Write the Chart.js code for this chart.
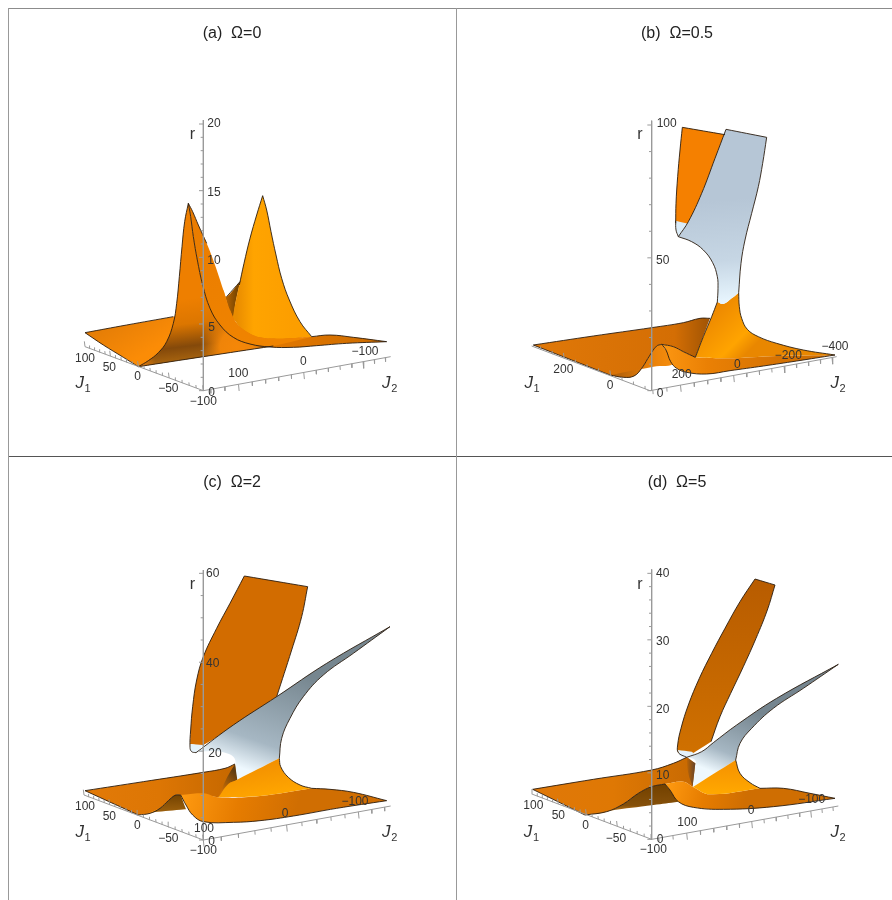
<!DOCTYPE html>
<html>
<head>
<meta charset="utf-8">
<title>r over J1, J2</title>
<script src="https://cdn.jsdelivr.net/npm/chart.js@4"></script>
<style>
    body { margin: 0; background: #fff; width: 892px; height: 900px; overflow: hidden; position: relative; }
    canvas { position: absolute; }
    .rule { position: absolute; }
</style>
</head>
<body>
<div class="rule" style="left:8px;top:8px;width:884px;height:1px;background:#8c8c8c"></div>
<div class="rule" style="left:8px;top:456px;width:884px;height:1px;background:#555"></div>
<div class="rule" style="left:8px;top:8px;width:1px;height:892px;background:#999"></div>
<div class="rule" style="left:456px;top:8px;width:1px;height:892px;background:#999"></div>
<canvas id="panelA" width="447" height="447" style="left:9px;top:9px"></canvas>
<canvas id="panelB" width="435" height="447" style="left:457px;top:9px"></canvas>
<canvas id="panelC" width="447" height="443" style="left:9px;top:457px"></canvas>
<canvas id="panelD" width="435" height="443" style="left:457px;top:457px"></canvas>
<script>
// --- Surface curves, in crop units (1 unit = 1/3 px) ---

// (a) Omega = 0
const aBackTop = [[75,698],[200,675],[340,650],[430,632],[500,590],[540,545]];
const aLeftFront = [[75,698],[130,735],[190,772],[235,800]];
const aFoot = [[235,800],[430,770],[640,738]];
const aRise = [[235,800],[265,782],[295,758],[320,725],[340,670],[350,610],[358,530],[366,440],[374,365],[385,310]];
const aFall = [[385,310],[392,350],[400,410],[412,480],[428,555],[450,625],[480,675],[520,712],[570,732],[630,741],[700,742],[770,737],[860,730],[980,725]];
const aRidgeBack = [[385,310],[398,335],[415,375],[440,430],[465,495],[490,570],[510,630],[530,670],[560,695],[600,712],[650,716],[700,714],[755,710]];
const aPeakL = [[608,287],[590,345],[570,415],[552,490],[538,555],[526,610],[518,655]];
const aPeakR = [[608,287],[620,330],[633,395],[648,465],[665,535],[688,600],[720,665],[755,710]];
const aPeakFoot = [[755,710],[640,718],[560,700],[518,655]];
const aRibbonTop = [[755,710],[810,705],[880,712],[980,725]];
const aFoldSide = [[540,545],[526,610],[518,655],[490,570]];

// (b) Omega = 0.5
const bBackTop = [[70,735],[250,708],[425,683],[520,668],[570,655],[600,655]];
const bLeft = [[70,735],[300,825]];
const bHumpL = [[300,825],[340,832],[372,828],[395,805],[420,765],[440,738],[455,733]];
const bHumpR = [[455,733],[468,750],[482,785],[500,805],[530,817],[590,822],[660,812],[760,798],[860,783],[975,765]];
const bFoldTop = [[455,733],[490,740],[520,755],[556,772]];
const bNeckL = [[556,772],[580,710],[605,650],[622,606]];
const bNeckR = [[686,578],[688,620],[695,655],[712,688],[745,710],[800,730],[880,750],[975,765]];
const bNeckFoot = [[975,765],[800,768],[650,775],[556,772]];
const bFloor = [[622,606],[640,612],[665,595],[686,578]];
const bSilverTop = [[648,88],[770,112]];
const bSilverR = [[770,112],[758,190],[745,260],[725,340],[705,420],[693,490],[686,578]];
const bSilverL = [[648,88],[615,175],[575,280],[535,365],[505,410]];
const bSilverBot = [[505,410],[545,425],[580,450],[608,488],[622,530],[624,565],[622,606]];
const bOrangeTop = [[517,82],[645,104]];
const bOrangeHidden = [[645,104],[680,220],[580,370],[530,376]];
const bOrangeL = [[517,82],[510,150],[503,230],[498,310],[497,370]];
const bTipEdge = [[497,362],[498,390],[505,410]];

// (c) Omega = 2
const cUpperTop = [[553,48],[743,80]];
const cUpperR = [[743,80],[725,170],[695,270],[650,410]];
const cUpperL = [[553,48],[510,130],[470,205],[430,290],[410,360],[398,440],[392,510],[390,562],[395,575],[408,578]];
const cSilverTop = [[408,578],[520,495],[650,410],[800,310],[990,200]];
const cSilverBot = [[990,200],[880,280],[790,345],[730,410],[690,475],[665,535],[658,595]];
const cFloor = [[658,595],[530,660]];
const cSilverL = [[530,660],[520,640],[527,612],[520,590],[495,578],[455,573],[408,578]];
const cSkirt = [[658,595],[662,620],[685,652],[720,675],[755,685]];
const cTail = [[755,685],[810,688],[880,697],[980,722]];
const cBackTop = [[75,692],[250,665],[430,637],[495,625],[525,612]];
const cLeft = [[75,692],[235,765]];
const cBumpTop = [[235,765],[270,760],[300,745],[325,722],[345,706],[362,705]];
const cBumpR = [[362,705],[378,735],[398,765],[430,785],[520,787],[600,782],[700,768],[830,745],[980,722]];
const cBumpFoot = [[280,757],[375,748]];

// (d) Omega = 5
const dUpperTop = [[735,57],[795,75]];
const dUpperR = [[795,75],[772,150],[738,235],[700,320],[662,400],[630,470],[603,545]];
const dUpperL = [[735,57],[690,125],[645,205],[605,280],[568,355],[535,435],[513,505],[503,555],[505,578],[530,592]];
const dSilverTop = [[530,592],[575,575],[610,548],[680,495],[800,415],[985,313]];
const dSilverBot = [[985,313],[880,385],[790,445],[725,505],[690,550],[677,600]];
const dFloor = [[677,600],[550,680]];
const dSilverL = [[550,680],[546,650],[556,620],[555,600],[530,592]];
const dSkirt = [[677,600],[690,640],[720,668],[750,685]];
const dTail = [[750,685],[820,685],[900,700],[975,715]];
const dBackTop = [[68,688],[250,658],[425,630],[490,610],[530,592]];
const dLeft = [[68,688],[225,765]];
const dBumpTop = [[225,765],[290,755],[340,732],[385,700],[425,680],[465,672]];
const dBumpR = [[465,672],[480,690],[505,725],[550,742],[640,748],[790,740],[975,715]];
const dBumpFoot = [[225,765],[300,752],[430,735],[505,725]];

// --- Axis ticks and labels ---
const j1TicksAC = [100,90,80,70,60,50,40,30,20,10,0,-10,-20,-30,-40,-50,-60,-70,-80,-90,-100];
const j1MajorAC = [100,50,0,-50,-100];
const j2TicksA = [140,120,100,80,60,40,20,0,-20,-40,-60,-80,-100,-120,-140];
const j2TicksC = [100,80,60,40,20,0,-20,-40,-60,-80,-100,-120,-140];
const j2Major = [100,0,-100];
const rTicksA = [0,1,2,3,4,5,6,7,8,9,10,11,12,13,14,15,16,17,18,19,20];
const rMajorA = [0,5,10,15,20];
const j1TicksB = [300,250,200,150,100,50,0,-50,-100,-150];
const j1MajorB = [200,0];
const j2TicksB = [300,250,200,150,100,50,0,-50,-100,-150,-200,-250,-300,-350,-400];
const j2MajorB = [200,0,-200,-400];
const rTicksB = [0,10,20,30,40,50,60,70,80,90,100];
const rMajorB = [0,50,100];
const rTicksC = [0,5,10,15,20,25,30,35,40,45,50,55,60];
const rMajorC = [0,20,40,60];
const rTicksD = [0,2,4,6,8,10,12,14,16,18,20,22,24,26,28,30,32,34,36,38,40];
const rMajorD = [0,10,20,30,40];

const labelsA = [['20',462,72],['15',462,278],['10',462,482],['5',455,682],['0',455,878],['100',75,775],['50',148,802],['0',233,830],['\u221250',325,866],['\u2212100',430,905],['100',535,820],['0',730,785],['\u2212100',915,755]];
const labelsB = [['100',470,72],['50',458,482],['0',450,880],['200',160,808],['0',300,858],['200',515,825],['0',682,793],['\u2212200',835,768],['\u2212400',975,740]];
const labelsC = [['60',458,40],['40',458,312],['20',465,582],['0',455,845],['100',75,740],['50',148,770],['0',232,797],['\u221250',325,836],['\u2212100',430,872],['100',432,805],['0',675,762],['\u2212100',885,725]];
const labelsD = [['40',458,40],['30',458,245],['20',458,448],['10',458,648],['0',450,840],['100',70,738],['50',145,768],['0',227,797],['\u221250',318,835],['\u2212100',430,870],['100',532,787],['0',723,752],['\u2212100',905,720]];

// --- Helpers ---
const rev = c => c.slice().reverse();
const toPoints = list => list.map(p => ({ x: p[0], y: p[1] }));

// A closed shape made of curves. Ends of each curve are doubled so they stay sharp corners.
function shape(...curves) {
    const out = [];
    curves.forEach(c => c.forEach((p, i) => {
        out.push(p);
        if (i === 0 || i === c.length - 1) out.push(p);
    }));
    return out;
}
function lin(x0, y0, x1, y1, ...stops) { return { line: [x0, y0, x1, y1], stops }; }
function rad(cx, cy, r, ...stops) { return { circle: [cx, cy, r], stops }; }

const aFace = shape(aRise, aFall.slice(0, 10), rev(aFoot));

const panels = [
    {
        id: 'panelA', title: '(a)  \u03a9=0', titleY: 25, crop: [60, 100], cell: [9, 9, 447, 447], labels: labelsA,
        rLabel: [397, 105], j1Label: [65, 855], j2Label: [985, 855],
        edges: [aBackTop.slice(0, 3), aBackTop.slice(4), aLeftFront, aRise, aFall, aFoot, aPeakL.slice(0, 5), aPeakR, aRibbonTop, aRidgeBack.slice(0, 4)],
        rAxis: { x: 430, top: 60, y0: 872, yMax: 72, max: 20, ticks: rTicksA, major: rMajorA },
        j1: { a: [75, 740], b: [430, 872], from: 100, to: -100, w: 0.82, ticks: j1TicksAC, major: j1MajorAC },
        j2: { a: [430, 872], b: [992, 770], from: 150, to: -150, w: 1.155, ticks: j2TicksA, major: j2Major },
        layers: [
            [shape(aBackTop, aFoldSide.slice(1), aFoot.slice(1), aFoot.slice(0, 2), rev(aLeftFront)), lin(140, 680, 210, 790, [0, '#e67e06'], [1, '#fb8c06'])],
            [shape(aFoldSide, [[490,570],[500,590],[540,545]]), lin(490, 600, 530, 600, [0, '#c06a05'], [1, '#7a4600'])],
            [shape(aPeakR, aPeakFoot, rev(aPeakL)), lin(530, 0, 700, 0, [0, '#e98c00'], [0.3, '#ffa400'], [1, '#fc9e00'])],
            [shape(aRidgeBack.slice(6), aRibbonTop, rev(aFall.slice(6))), lin(520, 0, 980, 0, [0, '#e67c00'], [0.5, '#dc7400'], [1, '#cc6c00'])],
            [shape(aRidgeBack, rev(aFall.slice(0, 10))), lin(385, 310, 620, 730, [0, '#e97b00'], [1, '#f08400'])],
            [aFace, lin(350, 600, 372, 785, [0, '#ee7f00'], [0.4, '#dc7600'], [0.76, '#84490a'], [1, '#a9650f'])],
            [aFace, rad(530, 740, 110, [0, 'rgba(245,135,8,1)'], [0.45, 'rgba(245,135,8,0.95)'], [1, 'rgba(245,135,8,0)'])],
            [aFace, rad(235, 800, 55, [0, 'rgba(235,125,10,1)'], [1, 'rgba(235,125,10,0)'])]
        ]
    },
    {
        id: 'panelB', title: '(b)  \u03a9=0.5', titleY: 25, crop: [510, 100], cell: [457, 9, 435, 447], labels: labelsB,
        rLabel: [390, 105], j1Label: [62, 855], j2Label: [980, 855],
        edges: [bBackTop, bLeft, bHumpL, bHumpR, bFoldTop, bNeckL, bOrangeTop, bOrangeL, bTipEdge, bSilverTop, bSilverR, bNeckR, bSilverL, bSilverBot],
        rAxis: { x: 425, top: 62, y0: 872, yMax: 75, max: 100, ticks: rTicksB, major: rMajorB },
        j1: { a: [65, 738], b: [420, 872], from: 340, to: -170, w: 1, ticks: j1TicksB, major: j1MajorB },
        j2: { a: [420, 872], b: [980, 770], from: 310, to: -420, w: 1.1, ticks: j2TicksB, major: j2MajorB },
        layers: [
            [shape(bBackTop, [[600,655],[556,772]], rev(bFoldTop), rev(bHumpL), rev(bLeft)), lin(70, 0, 600, 0, [0, '#e07808'], [0.8, '#d46e04'], [1, '#a05404'])],
            [shape(bHumpL, [[455,733],[490,790],[430,800],[300,825]]), lin(330, 0, 470, 0, [0, '#b8640a'], [0.6, '#e67e08'], [1, '#f28a0c'])],
            [shape(bHumpR, bNeckFoot, rev(bFoldTop)), lin(470, 0, 880, 0, [0, '#fa9410'], [0.3, '#ea8004'], [1, '#cf6e02'])],
            [shape(bNeckL, bFloor, bNeckR, bNeckFoot), lin(590, 660, 700, 770, [0, '#ee8a00'], [0.7, '#ffa400'], [1, '#e98700'])],
            [shape(bOrangeTop, bOrangeHidden, rev(bOrangeL.slice(4).concat([[530,376]])), rev(bOrangeL)), '#f58000'],
            [shape(bTipEdge, [[505,410],[540,372]], [[540,372],[497,362]]), '#dbecf8'],
            [shape(bSilverTop, bSilverR, rev(bFloor), rev(bSilverBot), rev(bSilverL)), lin(640, 300, 660, 600, [0, '#b6c6d6'], [0.6, '#c6d6e4'], [1, '#e6f4fd'])]
        ]
    },
    {
        id: 'panelC', title: '(c)  \u03a9=2', titleY: 26, crop: [60, 560], cell: [9, 457, 447, 443], labels: labelsC,
        rLabel: [397, 75], j1Label: [65, 822], j2Label: [985, 822],
        edges: [cUpperTop, cUpperR, cUpperL, cSilverTop, cSilverBot, cSkirt, cTail, cBackTop, cLeft, cBumpTop, cBumpR],
        rAxis: { x: 430, top: 30, y0: 840, yMax: 40, max: 60, ticks: rTicksC, major: rMajorC },
        j1: { a: [72, 705], b: [430, 840], from: 100, to: -100, w: 0.82, ticks: j1TicksAC, major: j1MajorAC },
        j2: { a: [430, 840], b: [992, 738], from: 100, to: -150, w: 1.2, ticks: j2TicksC, major: j2Major },
        layers: [
            [shape(cUpperTop, cUpperR, [[650,410],[430,555],[392,552]], rev(cUpperL.slice(0, 8))), '#d26c00'],
            [shape([[391,552],[430,555]], [[430,555],[408,578]], [[408,578],[395,575],[390,562]]), '#e4f2fb'],
            [shape(cSilverTop, cSilverBot, cFloor, cSilverL), lin(700, 330, 590, 640, [0, '#76868f'], [0.72, '#a6b7c3'], [1, '#eef8fe'])],
            [shape(cBackTop, [[525,612],[530,660]], [[530,660],[475,712]], [[475,712],[430,706],[362,705]], rev(cBumpTop), rev(cLeft)), lin(75, 0, 520, 0, [0, '#e27a08'], [0.5, '#dd7604'], [1, '#c66800'])],
            [shape(cBumpTop.slice(0, 3), [[300,745],[260,761]]), lin(240, 0, 300, 0, [0, '#f08a10'], [1, '#ffa020'])],
            [shape([[525,612],[532,660]], [[532,660],[505,672],[475,712]], [[475,712],[500,655],[525,612]]), lin(480, 690, 530, 640, [0, '#d07004'], [1, '#5f3c10'])],
            [shape(cBumpTop.slice(1), [[362,705],[378,748]], rev(cBumpFoot), [[280,757],[270,760]]), lin(0, 700, 0, 760, [0, '#704000'], [1, '#a0630e'])],
            [shape(cBumpR, rev(cTail), [[755,685],[600,708],[475,712],[430,700],[362,705]]), lin(362, 700, 700, 790, [0, '#ff9a10'], [0.5, '#e67c00'], [1, '#d06e02'])],
            [shape(cFloor.slice().reverse(), cSkirt, [[755,685],[600,708],[475,712]], [[475,712],[505,672],[530,660]]), lin(600, 610, 620, 710, [0, '#f39000'], [1, '#ffa600'])]
        ]
    },
    {
        id: 'panelD', title: '(d)  \u03a9=5', titleY: 26, crop: [510, 560], cell: [457, 457, 435, 443], labels: labelsD,
        rLabel: [390, 75], j1Label: [60, 822], j2Label: [980, 822],
        edges: [dUpperTop, dUpperR, dUpperL, dSilverTop, dSilverBot, dSkirt, dTail, dBackTop, dLeft, dBumpTop, dBumpR],
        rAxis: { x: 425, top: 28, y0: 838, yMax: 40, max: 40, ticks: rTicksD, major: rMajorD },
        j1: { a: [68, 703], b: [425, 838], from: 100, to: -100, w: 0.82, ticks: j1TicksAC, major: j1MajorAC },
        j2: { a: [425, 838], b: [985, 738], from: 150, to: -150, w: 1.155, ticks: j2TicksA, major: j2Major },
        layers: [
            [shape(dUpperTop, dUpperR, [[603,545],[530,592]], rev(dUpperL)), lin(0, 60, 0, 570, [0, '#b85c00'], [1, '#cf7000'])],
            [shape([[503,570],[545,575]], [[545,575],[558,585],[530,592]], [[530,592],[512,590],[503,570]]), '#e4f2fb'],
            [shape(dSilverTop, dSilverBot, dFloor, dSilverL), lin(700, 440, 620, 640, [0, '#75858f'], [0.68, '#a6b7c3'], [1, '#eef8fe'])],
            [shape(dBackTop, [[530,592],[556,610]], [[556,610],[548,680]], [[548,680],[520,665],[465,672]], rev(dBumpTop), rev(dLeft)), lin(68, 0, 550, 0, [0, '#e07808'], [0.5, '#df7804'], [1, '#c86a02'])],
            [shape([[530,592],[556,610]], [[556,610],[548,680]], [[548,680],[535,640],[530,592]]), lin(530, 0, 558, 0, [0, '#c06602'], [1, '#5a4030'])],
            [shape(dBumpTop, dBumpR.slice(0, 3), rev(dBumpFoot)), lin(0, 680, 0, 755, [0, '#744200'], [0.75, '#85500a'], [1, '#c57a18'])],
            [shape(dBumpR, rev(dTail), [[750,685],[600,703],[548,680],[520,665],[465,672]]), lin(465, 680, 700, 745, [0, '#ff9a10'], [0.5, '#e67c00'], [1, '#cf6e02'])],
            [shape(rev(dFloor), dSkirt, [[750,685],[600,703],[548,680]]), lin(620, 620, 620, 700, [0, '#f79500'], [1, '#ffa800'])]
        ]
    }
];

// Position along a projected axis, w bends the spacing for perspective
function axisPoint(ax, value) {
    const s = (value - ax.from) / (ax.to - ax.from);
    const d = (1 - s) + s * ax.w;
    return [(ax.a[0] * (1 - s) + ax.b[0] * s * ax.w) / d, (ax.a[1] * (1 - s) + ax.b[1] * s * ax.w) / d];
}

function tickSegments(ax, major, minor) {
    const out = [];
    ax.ticks.forEach(v => {
        const p = axisPoint(ax, v);
        const t = ax.major.includes(v) ? major : minor;
        out.push({ x: p[0], y: p[1] }, { x: p[0] + t[0], y: p[1] + t[1] }, { x: NaN, y: NaN });
    });
    return out;
}

function rTickSegments(r) {
    const out = [];
    r.ticks.forEach(v => {
        const y = r.y0 + (r.yMax - r.y0) * v / r.max;
        const len = r.major.includes(v) ? 13 : 8;
        out.push({ x: r.x, y: y }, { x: r.x - len, y: y }, { x: NaN, y: NaN });
    });
    return out;
}

function makeFill(chart, spec) {
    if (typeof spec === 'string') return spec;
    if (!chart.chartArea) return spec.stops[0][1];
    const xs = chart.scales.x, ys = chart.scales.y;
    let g;
    if (spec.line) {
        const l = spec.line;
        g = chart.ctx.createLinearGradient(xs.getPixelForValue(l[0]), ys.getPixelForValue(l[1]), xs.getPixelForValue(l[2]), ys.getPixelForValue(l[3]));
    } else {
        const c = spec.circle;
        const px = xs.getPixelForValue(c[0]), py = ys.getPixelForValue(c[1]);
        g = chart.ctx.createRadialGradient(px, py, 0, px, py, c[2] / 3);
    }
    spec.stops.forEach(s => g.addColorStop(s[0], s[1]));
    return g;
}

// Titles, tick labels and axis names sit on top of the surfaces
const panelText = {
    id: 'panelText',
    afterDraw(chart, args, opts) {
        const { ctx, scales } = chart;
        const px = v => scales.x.getPixelForValue(v), py = v => scales.y.getPixelForValue(v);
        ctx.save();
        ctx.textBaseline = 'middle';
        ctx.textAlign = 'center';
        ctx.fillStyle = '#222';
        ctx.font = '16px "Liberation Sans", Arial, sans-serif';
        ctx.fillText(opts.title, opts.titleX, opts.titleY);
        ctx.fillStyle = '#333';
        ctx.font = '12px "Liberation Sans", Arial, sans-serif';
        opts.labels.forEach(l => ctx.fillText(l[0], px(l[1]), py(l[2])));
        ctx.font = '16px "Liberation Sans", Arial, sans-serif';
        ctx.fillText('r', px(opts.rLabel[0]), py(opts.rLabel[1]));
        [[opts.j1Label, '1'], [opts.j2Label, '2']].forEach(([pos, sub]) => {
            ctx.font = 'italic 17px "Liberation Sans", Arial, sans-serif';
            ctx.fillText('J', px(pos[0]) - 2, py(pos[1]) - 2);
            ctx.font = '11px "Liberation Sans", Arial, sans-serif';
            ctx.fillText(sub, px(pos[0]) + 6, py(pos[1]) + 4);
        });
        ctx.restore();
    }
};

panels.forEach(p => {
    const sets = [];
    const line = (data, color, width, tension) => sets.push({
        data, showLine: true, fill: false, borderColor: color, borderWidth: width, pointRadius: 0, tension
    });
    p.layers.forEach(([pts, spec]) => sets.push({
        data: toPoints(pts), showLine: true, fill: 'shape', borderWidth: 0, pointRadius: 0, tension: 0.4,
        borderColor: 'transparent',
        backgroundColor: ctx => makeFill(ctx.chart, spec)
    }));
    p.edges.forEach(e => line(toPoints(e), '#2b1d10', 0.9, 0.4));
    // axes
    line(toPoints([[p.rAxis.x, p.rAxis.top], [p.rAxis.x, p.rAxis.y0]]), '#9a9a9a', 1, 0);
    line(toPoints([p.j1.a, p.j1.b]), '#9a9a9a', 1, 0);
    line(toPoints([p.j2.a, p.j2.b]), '#9a9a9a', 1, 0);
    line(rTickSegments(p.rAxis), '#9a9a9a', 1, 0);
    line(tickSegments(p.j1, [-2, -16], [-1, -9]), '#9a9a9a', 1, 0);
    line(tickSegments(p.j2, [2, 20], [1, 12]), '#9a9a9a', 1, 0);
    // later datasets paint on top
    sets.forEach((s, i) => { s.order = sets.length - i; });

    const [cx, cy, cw, ch] = p.cell;
    const xMin = (cx - p.crop[0]) * 3, yMin = (cy - p.crop[1]) * 3;
    new Chart(document.getElementById(p.id), {
        type: 'scatter',
        data: { datasets: sets },
        options: {
            responsive: false,
            animation: false,
            devicePixelRatio: 1,
            layout: { padding: 0 },
            scales: {
                x: { type: 'linear', display: false, min: xMin, max: xMin + cw * 3 },
                y: { type: 'linear', display: false, reverse: true, min: yMin, max: yMin + ch * 3 }
            },
            plugins: {
                legend: { display: false },
                tooltip: { enabled: false },
                panelText: { title: p.title, titleX: p.id === 'panelB' || p.id === 'panelD' ? 220 : 223, titleY: p.titleY, labels: p.labels, rLabel: p.rLabel, j1Label: p.j1Label, j2Label: p.j2Label }
            }
        },
        plugins: [panelText]
    });
});
</script>
</body>
</html>
